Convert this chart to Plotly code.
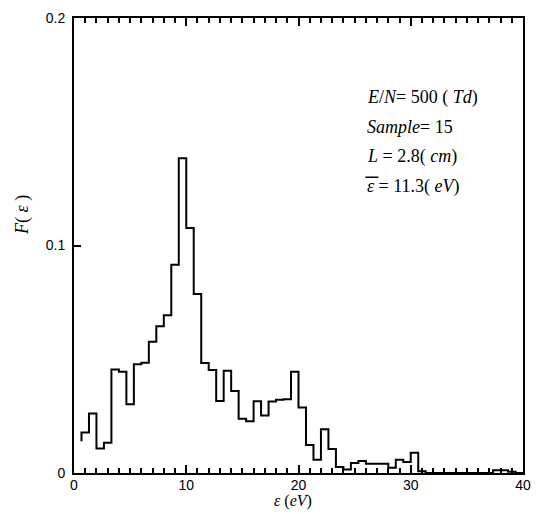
import plotly.graph_objects as go

# ---- data ----
bin_width = 2.0 / 3.0          # eV per histogram bin
first_bin = 1                  # index of first drawn bin (bin k spans k*w .. (k+1)*w)
start_level = 0.014            # level where the drawn step line begins
values = [
    0.0178, 0.0262, 0.0108, 0.0133, 0.0455, 0.0445, 0.0302, 0.0478, 0.0485, 0.0577,   # k=1..10
    0.0645, 0.0693, 0.0915, 0.1384, 0.1077, 0.0787, 0.0483, 0.0453, 0.0316, 0.0449,   # k=11..20
    0.0360, 0.0239, 0.0227, 0.0315, 0.0253, 0.0314, 0.0322, 0.0324, 0.0445, 0.0288,   # k=21..30
    0.0123, 0.0058, 0.0192, 0.0105, 0.0026, 0.0015, 0.0044, 0.0053, 0.0041, 0.0041,   # k=31..40
    0.0041, 0.0023, 0.0058, 0.0048, 0.0089, 0.0008, 0.0, 0.0, 0.0, 0.0,               # k=41..50
    0.0, 0.0, 0.0, 0.0, 0.0, 0.0012, 0.0012, 0.0006, 0.0,                             # k=51..59
]
x_ticks = [0, 10, 20, 30, 40]
x_tick_labels = ["0", "10", "20", "30", "40"]
y_ticks = [0, 0.1, 0.2]
y_tick_labels = ["0", "0.1", "0.2"]
info_lines = [
    "<i>E</i>/<i>N</i>= 500 ( <i>Td</i>)",
    "<i>Sample</i>= 15",
    "<i>L</i> = 2.8( <i>cm</i>)",
    "<i>ε</i> = 11.3( <i>eV</i>)",
]

edges = [(first_bin + i) * bin_width for i in range(len(values) + 1)]
xs = [edges[0]] + edges
ys = [start_level] + values + [values[-1]]

fig = go.Figure()
fig.add_trace(go.Scatter(x=xs, y=ys, mode="lines", line=dict(color="black", width=2, shape="hv"),
                         showlegend=False, hoverinfo="skip"))

tick_font = dict(family="Liberation Sans, Arial, sans-serif", size=14, color="black")
fig.update_layout(
    width=536, height=514,
    margin=dict(l=74, r=13, t=18, b=41, autoexpand=False),
    paper_bgcolor="white", plot_bgcolor="white",
    xaxis=dict(range=[0, 40], tickvals=x_ticks, ticktext=x_tick_labels, ticks="inside", ticklen=8,
               tickwidth=2, tickcolor="black", showline=True, linecolor="black", linewidth=2,
               mirror="ticks", showgrid=False, zeroline=False, tickfont=tick_font,
               ticklabelstandoff=-2,
               minor=dict(dtick=1, ticks="inside", ticklen=5, tickwidth=2, tickcolor="black", showgrid=False)),
    yaxis=dict(range=[0, 0.2], tickvals=y_ticks, ticktext=y_tick_labels, ticks="inside", ticklen=7,
               tickwidth=1.5, tickcolor="black", showline=True, linecolor="black", linewidth=2,
               mirror=True, showgrid=False, zeroline=False, tickfont=tick_font, ticklabelstandoff=4),
)

serif = dict(family="Liberation Serif, Times New Roman, serif", size=18, color="black")
line_y = [0.826, 0.760, 0.695, 0.629]
for txt, yy in zip(info_lines, line_y):
    fig.add_annotation(text=txt, x=0.649, y=yy, xref="paper", yref="paper", xanchor="left",
                       yanchor="middle", showarrow=False, font=serif)
# overline on mean energy symbol
fig.add_shape(type="line", xref="paper", yref="paper", x0=0.649, x1=0.678, y0=0.650, y1=0.650,
              line=dict(color="black", width=1.5))

fig.add_annotation(text="<i>F</i>( <i>ε</i> )", x=-0.116, y=0.567, xref="paper", yref="paper",
                   xanchor="center", yanchor="middle", showarrow=False, textangle=-90, font=serif)
fig.add_annotation(text="<i>ε</i> (<i>eV</i>)", x=0.488, y=-0.062, xref="paper", yref="paper",
                   xanchor="center", yanchor="middle", showarrow=False,
                   font=dict(family="Liberation Serif, Times New Roman, serif", size=16, color="black"))

fig.write_html("out.html", config={"displayModeBar": False},
               post_script="document.body.style.margin='0';document.body.style.overflow='hidden';")
